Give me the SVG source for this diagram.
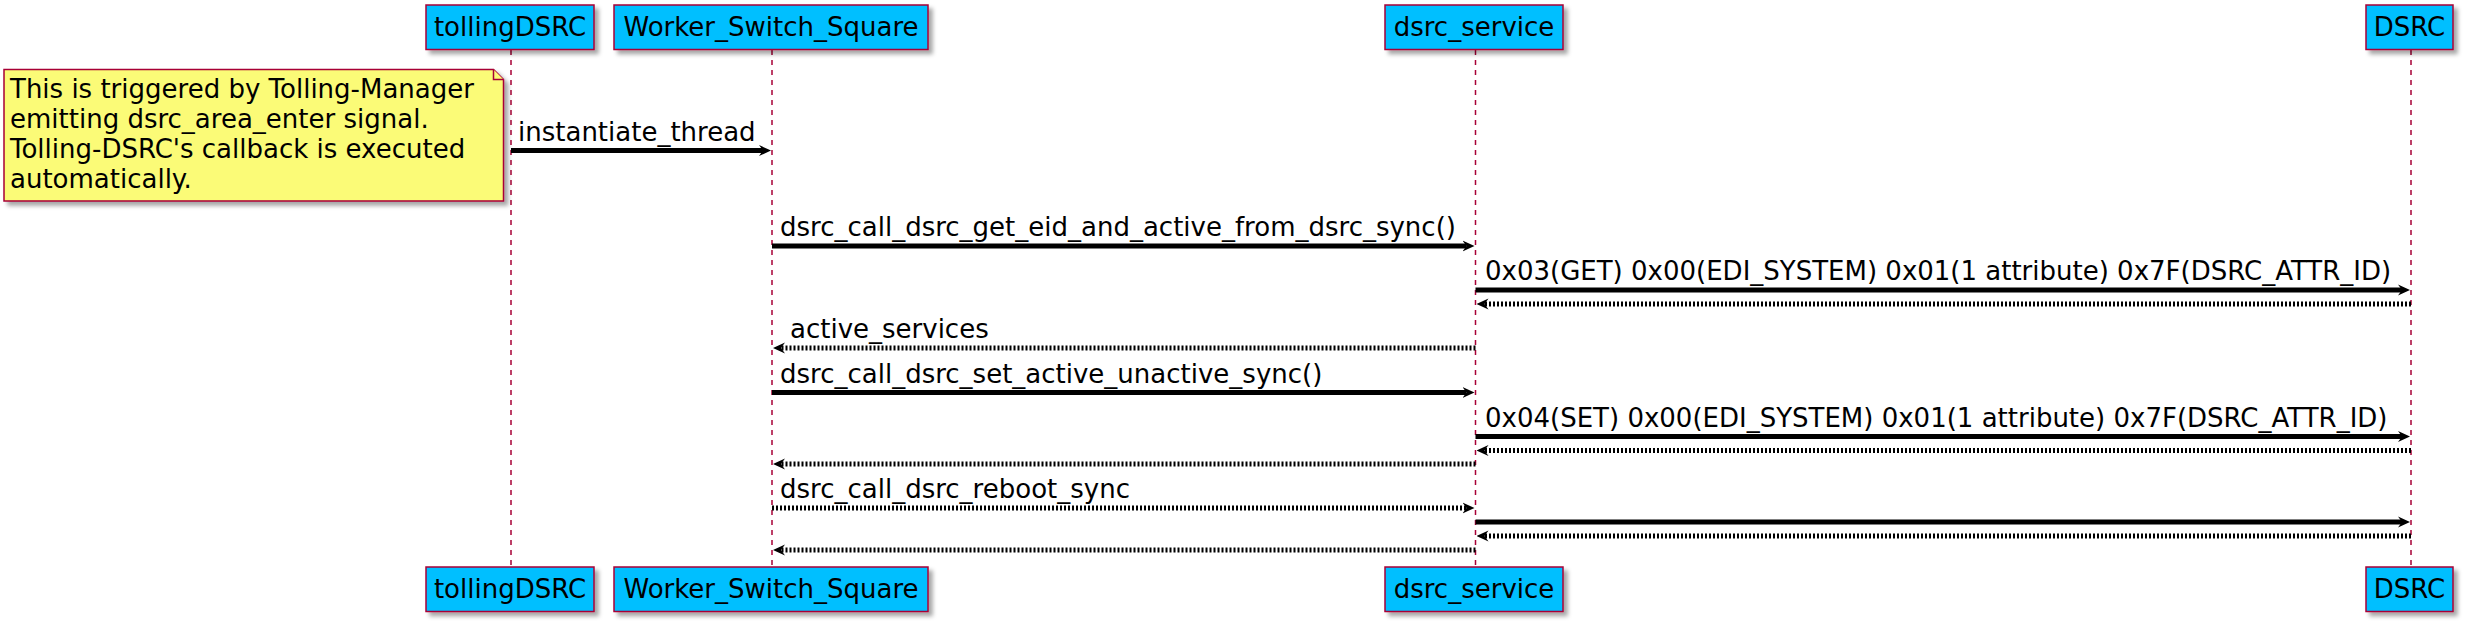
<svg xmlns="http://www.w3.org/2000/svg" width="2466" height="625" viewBox="0 0 2466 625">
<style>
.box{fill:#00BFFF;stroke:#A80036;stroke-width:1.5}
.note{fill:#FBFB77;stroke:#A80036;stroke-width:1.5}
.life{stroke:#A80036;stroke-width:1.5;stroke-dasharray:5,5;fill:none}
.ptxt{font-family:"DejaVu Sans",sans-serif;font-size:26px;fill:#000;text-anchor:middle}
.txt{font-family:"DejaVu Sans",sans-serif;font-size:26px;fill:#000}
.msg{stroke:#000;stroke-width:5;fill:none}
.ret{stroke:#000;stroke-width:5;fill:none;stroke-dasharray:2,2}
.head{fill:#000;stroke:none}
</style>
<defs>
<filter id="sh" x="-10%" y="-10%" width="130%" height="140%">
<feDropShadow dx="4" dy="4" stdDeviation="2" flood-color="#000" flood-opacity="0.35"/>
</filter>
<marker id="arr" viewBox="0 0 12 12" markerWidth="12" markerHeight="12" refX="4" refY="6" orient="auto" markerUnits="userSpaceOnUse">
<path class="head" d="M12,6 L0,0.5 L4,6 L0,11.5 Z"/>
</marker>
</defs>

<g id="lifelines">
<line class="life" x1="511" y1="50" x2="511" y2="567"/>
<line class="life" x1="772" y1="50" x2="772" y2="567"/>
<line class="life" x1="1475.5" y1="50" x2="1475.5" y2="567"/>
<line class="life" x1="2411" y1="50" x2="2411" y2="567"/>
</g>

<g id="tollingDSRC">
<rect class="box" filter="url(#sh)" x="426" y="5" width="168" height="44.5"/>
<text class="ptxt" x="510" y="36">tollingDSRC</text>
<rect class="box" filter="url(#sh)" x="426" y="567" width="168" height="44.5"/>
<text class="ptxt" x="510" y="598">tollingDSRC</text>
</g>
<g id="Worker_Switch_Square">
<rect class="box" filter="url(#sh)" x="614" y="5" width="314" height="44.5"/>
<text class="ptxt" x="771" y="36">Worker_Switch_Square</text>
<rect class="box" filter="url(#sh)" x="614" y="567" width="314" height="44.5"/>
<text class="ptxt" x="771" y="598">Worker_Switch_Square</text>
</g>
<g id="dsrc_service">
<rect class="box" filter="url(#sh)" x="1385" y="5" width="178" height="44.5"/>
<text class="ptxt" x="1474" y="36">dsrc_service</text>
<rect class="box" filter="url(#sh)" x="1385" y="567" width="178" height="44.5"/>
<text class="ptxt" x="1474" y="598">dsrc_service</text>
</g>
<g id="DSRC">
<rect class="box" filter="url(#sh)" x="2366" y="5" width="87" height="44.5"/>
<text class="ptxt" x="2409.5" y="36">DSRC</text>
<rect class="box" filter="url(#sh)" x="2366" y="567" width="87" height="44.5"/>
<text class="ptxt" x="2409.5" y="598">DSRC</text>
</g>

<g id="note">
<path class="note" filter="url(#sh)" d="M4,69.5 L493.5,69.5 L503.5,79.5 L503.5,201 L4,201 Z"/>
<path class="note" d="M493.5,69.5 L493.5,79.5 L503.5,79.5"/>
<text class="txt" x="10" y="98">This is triggered by Tolling-Manager</text>
<text class="txt" x="10" y="128">emitting dsrc_area_enter signal.</text>
<text class="txt" x="10" y="158">Tolling-DSRC's callback is executed</text>
<text class="txt" x="10" y="188">automatically.</text>
</g>

<g id="connectors">
<line class="msg" marker-end="url(#arr)" x1="511" y1="150.5" x2="763" y2="150.5"/>
<text class="txt" x="518" y="140.5">instantiate_thread</text>

<line class="msg" marker-end="url(#arr)" x1="772" y1="246" x2="1466.5" y2="246"/>
<text class="txt" x="780" y="236">dsrc_call_dsrc_get_eid_and_active_from_dsrc_sync()</text>

<line class="msg" marker-end="url(#arr)" x1="1475.5" y1="290" x2="2402" y2="290"/>
<text class="txt" x="1485" y="280">0x03(GET) 0x00(EDI_SYSTEM) 0x01(1 attribute) 0x7F(DSRC_ATTR_ID)</text>

<line class="ret" marker-end="url(#arr)" x1="2411" y1="304" x2="1484.5" y2="304"/>

<line class="ret" marker-end="url(#arr)" x1="1475.5" y1="348" x2="781" y2="348"/>
<text class="txt" x="790" y="338">active_services</text>

<line class="msg" marker-end="url(#arr)" x1="772" y1="392.5" x2="1466.5" y2="392.5"/>
<text class="txt" x="780" y="382.5">dsrc_call_dsrc_set_active_unactive_sync()</text>

<line class="msg" marker-end="url(#arr)" x1="1475.5" y1="436.5" x2="2402" y2="436.5"/>
<text class="txt" x="1485" y="426.5">0x04(SET) 0x00(EDI_SYSTEM) 0x01(1 attribute) 0x7F(DSRC_ATTR_ID)</text>

<line class="ret" marker-end="url(#arr)" x1="2411" y1="450.5" x2="1484.5" y2="450.5"/>

<line class="ret" marker-end="url(#arr)" x1="1475.5" y1="464" x2="781" y2="464"/>

<line class="ret" marker-end="url(#arr)" x1="772" y1="508" x2="1466.5" y2="508"/>
<text class="txt" x="780" y="498">dsrc_call_dsrc_reboot_sync</text>

<line class="msg" marker-end="url(#arr)" x1="1475.5" y1="522" x2="2402" y2="522"/>

<line class="ret" marker-end="url(#arr)" x1="2411" y1="536" x2="1484.5" y2="536"/>

<line class="ret" marker-end="url(#arr)" x1="1475.5" y1="550" x2="781" y2="550"/>
</g>
</svg>
